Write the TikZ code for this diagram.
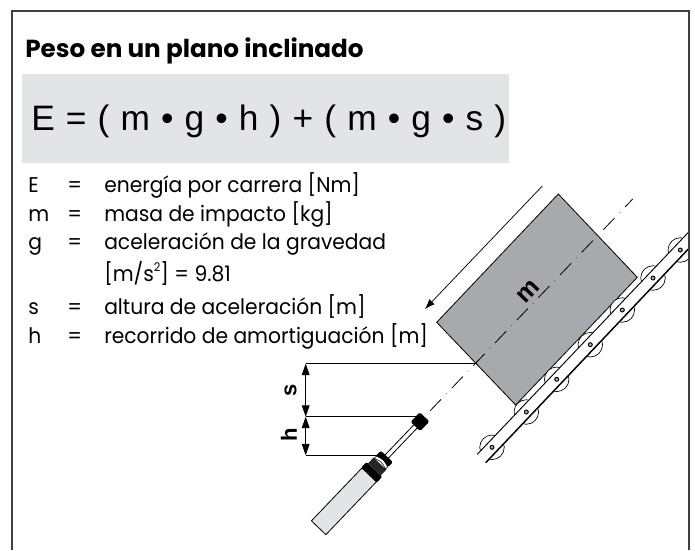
\documentclass[tikz,border=0pt]{standalone}
\usepackage{fontspec}
\usetikzlibrary{arrows.meta}
\setmainfont{Liberation Sans}
\newfontfamily\bodyf[FakeStretch=0.95]{Poppins}
\newfontfamily\titlef[FakeStretch=1.0]{Poppins}
\definecolor{panel}{HTML}{E3E4E6}
\definecolor{massgray}{HTML}{A7A9AC}
\tikzset{
  thinln/.style={line width=0.55pt,black},
  legend/.style={anchor=base west,inner sep=0pt,font=\bodyf\fontsize{16}{18}\selectfont},
  dimlab/.style={inner sep=0pt,font=\bfseries\fontsize{16.5}{18}\selectfont},
  roller/.style={circle,draw=black,line width=0.5pt,fill=white,minimum size=18.4pt,inner sep=0pt},
  pin/.style={circle,draw=black,line width=0.7pt,fill=massgray,minimum size=3pt,inner sep=0pt},
  bigtip/.style={{Triangle[length=8.5pt,width=5.8pt]}-{Triangle[length=8.5pt,width=5.8pt]}},
}
\begin{document}
\begin{tikzpicture}[x=0.75pt,y=-0.75pt]
\useasboundingbox (0,0) rectangle (695,550);
% panel
\fill[panel] (22,74) rectangle (509,163);
\node[anchor=base west,inner sep=0pt,font=\titlef\bfseries\fontsize{18.5}{20}\selectfont] (title) at (25,57) {Peso en un plano inclinado};
\node[anchor=base west,inner sep=0pt,font=\fontsize{26.5}{30}\selectfont] (formula) at (31,130) {\spaceskip=8.35pt E = ( m • g • h ) + ( m • g • s )};
% legend
\node[legend] (l1a) at (28,192.7) {E};
\node[legend] (l1b) at (67,192.7) {=};
\node[legend] (l1c) at (104,192.7) {energía por carrera [Nm]};
\node[legend] (l2a) at (28,221) {m};
\node[legend] (l2b) at (67,221) {=};
\node[legend] (l2c) at (104,221) {masa de impacto [kg]};
\node[legend] (l3a) at (28,249.3) {g};
\node[legend] (l3b) at (67,249.3) {=};
\node[legend] (l3c) at (104,249.3) {aceleración de la gravedad};
\node[legend] (l4c) at (104,281) {[m/s\raisebox{0.45em}{\fontsize{9}{9}\selectfont 2}] = 9.81};
\node[legend] (l5a) at (28,314) {s};
\node[legend] (l5b) at (67,314) {=};
\node[legend] (l5c) at (104,314) {altura de aceleración [m]};
\node[legend] (l6a) at (28,343) {h};
\node[legend] (l6b) at (67,343) {=};
\node[legend] (l6c) at (104,343) {recorrido de amortiguación [m]};
% mass
\filldraw[fill=massgray,draw=black,line width=0.6pt] (558.3,194) -- (637.3,277.3) -- (515.7,405) -- (436.7,322.3) -- cycle;
% rollers
\begin{scope}
\clip (0,0) rectangle (689,550);
\foreach \n/\p in {r1/{492,447.3},r2/{526.3,412},r3/{556.7,379.3},r4/{590.3,344.7},r5/{622.3,310},r6/{653,278},r7/{680.3,250}}{
  \node[roller] (\n) at (\p) {};
}
\end{scope}
% rail band
\fill[white] (477.3,454.3) -- (689,231.7) -- (689,248.3) -- (485.7,462.7) -- cycle;
\draw[line width=0.7pt] (477.3,454.3) -- (689,231.7);
\draw[line width=1.1pt] (485.7,462.7) -- (689,248.3);
\foreach \n in {r1,r2,r3,r4,r5,r6,r7}{
  \node[pin] at (\n) {};
}
% centre line
\coordinate (cl0) at (632.7,199);
\coordinate (cl1) at (428,413);
\draw[line width=0.6pt,dash pattern=on 12pt off 5.6pt on 0.3pt off 5.6pt,dash phase=3.7pt] (cl0) -- (cl1);
% size arrow
\coordinate (m0) at (542.3,186);
\coordinate (m1) at (425,309);
\draw[thinln,-{Latex[length=7.5pt,width=5.5pt]}] (m0) -- (m1);
\node[dimlab,font=\bfseries\fontsize{19}{20}\selectfont,rotate=46.3] (mlab) at (528.3,291.7) {m};
% damper
\begin{scope}[shift={(420,421.7)},rotate=46.3]
  \filldraw[fill=panel,draw=black,line width=0.6pt] (-146.7,-10) rectangle (-70,10);
  \draw[line width=0.6pt] (-49,2.3) -- (-6,2.3) (-49,-2.3) -- (-6,-2.3);
  \fill[black,rounded corners=1pt] (-74,-10.8) rectangle (-66,10.8);
  \fill[black!85] (-66,-8.8) rectangle (-58,8.8);
  \filldraw[fill=white,draw=black,line width=0.4pt] (-58,-7.8) .. controls (-55.5,0) .. (-58,7.8) -- (-55,7.8) .. controls (-52.5,0) .. (-55,-7.8) -- cycle;
  \fill[black,rounded corners=1pt] (-55,-8.3) -- (-48,-8.3) -- (-48,8.3) -- (-55,8.3) .. controls (-52.5,0) .. (-55,-8.3);
  \node[fill=black,rounded corners=1.2pt,minimum width=10pt,minimum height=10pt,inner sep=0pt,rotate=46.3] (head) at (0,0) {};
\end{scope}
% dimensions
\coordinate (d1) at (305.7,363.7);
\coordinate (d2) at (305.7,416.7);
\coordinate (d3) at (305.7,455.3);
\coordinate (e1) at (476.7,363.7);
\coordinate (e3) at (376.7,455.3);
\draw[line width=0.6pt] (d1) -- (e1);
\draw[line width=0.6pt] (d2) -- (d2 -| head);
\draw[line width=0.6pt] (d3) -- (e3);
\draw[line width=0.6pt,bigtip] (d1) -- (d2);
\draw[line width=0.6pt,bigtip] (d2) -- (d3);
\node[dimlab,rotate=90] (slab) at (290.5,390) {s};
\node[dimlab,rotate=90] (hlab) at (289,435) {h};
% frame
\draw[line width=1pt,black!75] (12,550) -- (12,11) -- (689,11) -- (689,550);
\end{tikzpicture}
\end{document}
